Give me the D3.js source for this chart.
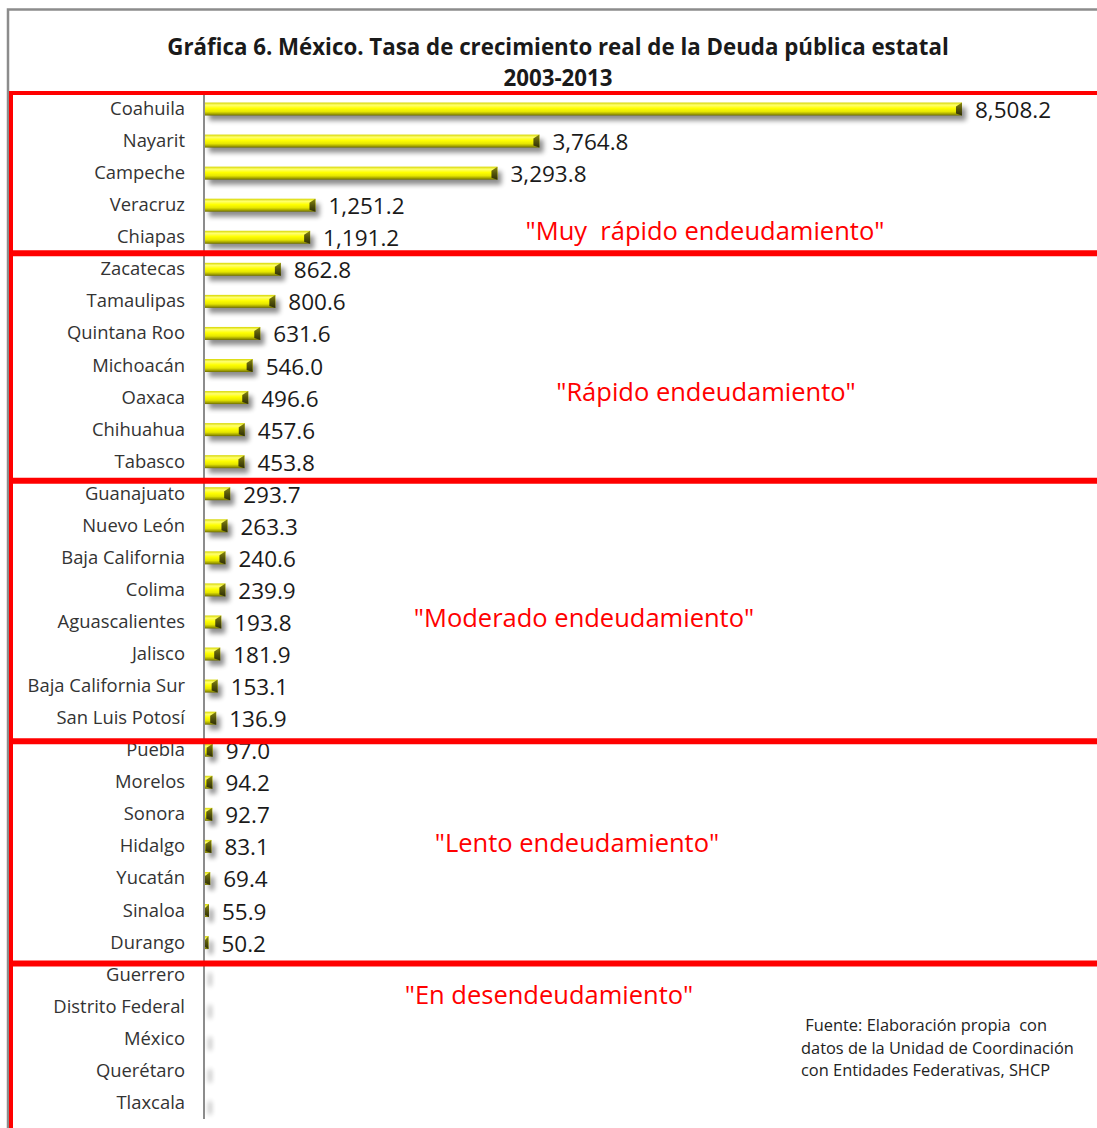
<!DOCTYPE html>
<html>
<head>
<meta charset="utf-8">
<script src="https://cdn.jsdelivr.net/npm/d3@7"></script>
<style>
    body { margin: 0; background: #fff; }
    svg { display: block; }
</style>
</head>
<body>
<div id="chart-div"></div>
<script>
// data
const states = ['Coahuila', 'Nayarit', 'Campeche', 'Veracruz', 'Chiapas',
    'Zacatecas', 'Tamaulipas', 'Quintana Roo', 'Michoacán', 'Oaxaca', 'Chihuahua', 'Tabasco',
    'Guanajuato', 'Nuevo León', 'Baja California', 'Colima', 'Aguascalientes', 'Jalisco',
    'Baja California Sur', 'San Luis Potosí',
    'Puebla', 'Morelos', 'Sonora', 'Hidalgo', 'Yucatán', 'Sinaloa', 'Durango',
    'Guerrero', 'Distrito Federal', 'México', 'Querétaro', 'Tlaxcala'];
const growth = [8508.2, 3764.8, 3293.8, 1251.2, 1191.2,
    862.8, 800.6, 631.6, 546.0, 496.6, 457.6, 453.8,
    293.7, 263.3, 240.6, 239.9, 193.8, 181.9, 153.1, 136.9,
    97.0, 94.2, 92.7, 83.1, 69.4, 55.9, 50.2,
    null, null, null, null, null]; // no bar shown for these
const groupNames = ['"Muy  rápido endeudamiento"', '"Rápido endeudamiento"',
    '"Moderado endeudamiento"', '"Lento endeudamiento"', '"En desendeudamiento"'];
const groupFirst = ['Coahuila', 'Zacatecas', 'Guanajuato', 'Puebla', 'Guerrero'];
const titleLines = ['Gráfica 6. México. Tasa de crecimiento real de la Deuda pública estatal', '2003-2013'];
const sourceLines = [' Fuente: Elaboración propia  con', 'datos de la Unidad de Coordinación', 'con Entidades Federativas, SHCP'];

window.Vis = window.Vis || {};

Vis.init = function() {
    Vis.setup.initConsts();
    Vis.setup.initGraph();
    Vis.setup.initDefs();

    Vis.draw.frame();
    Vis.draw.bars();
    Vis.draw.labels();
    Vis.draw.groups();
    Vis.draw.source();
};

Vis.setup = {
    initConsts: function() {
        Vis.width = 1097;
        Vis.height = 1128;
        Vis.axisX = 204;
        Vis.top = 93;
        Vis.rowH = 32.06;
        Vis.barH = 13;
        Vis.font = '"Open Sans", "Noto Sans", sans-serif';
    },

    initGraph: function() {
        Vis.svg = d3.select('#chart-div')
                    .append('svg')
                     .attr('width', Vis.width)
                     .attr('height', Vis.height);

        Vis.x = d3.scaleLinear()
                  .domain([0, 9000])
                  .range([Vis.axisX, Vis.axisX + 801.8]);
        Vis.y = d3.scaleBand()
                  .domain(states)
                  .range([Vis.top, Vis.top + Vis.rowH * states.length]);
    },

    initDefs: function() {
        let defs = Vis.svg.append('defs');

        let g = defs.append('linearGradient')
                    .attr('id', 'barGrad')
                    .attr('x1', 0).attr('y1', 0).attr('x2', 0).attr('y2', 1);
        [[0, '#d6d600'], [0.2, '#ffff70'], [0.45, '#ffff00'], [0.7, '#e6e600'], [0.88, '#a3a300'], [1, '#6e6e00']]
            .forEach(s => g.append('stop').attr('offset', s[0]).attr('stop-color', s[1]));

        let c = defs.append('linearGradient')
                    .attr('id', 'capGrad')
                    .attr('x1', 0).attr('y1', 0).attr('x2', 0).attr('y2', 1);
        [[0, '#8a8a10'], [0.5, '#55550a'], [1, '#2e2e05']]
            .forEach(s => c.append('stop').attr('offset', s[0]).attr('stop-color', s[1]));

        let f = defs.append('filter')
                    .attr('id', 'shadow')
                    .attr('x', '-20%').attr('y', '-60%')
                    .attr('width', '140%').attr('height', '260%');
        f.append('feGaussianBlur').attr('in', 'SourceAlpha').attr('stdDeviation', 2.5).attr('result', 'blur');
        f.append('feOffset').attr('dx', 4).attr('dy', 5).attr('result', 'off');
        f.append('feComponentTransfer').append('feFuncA').attr('type', 'linear').attr('slope', 0.45);
    }
};

Vis.draw = {
    frame: function() {
        // outer grey border
        Vis.svg.append('path')
               .attr('d', 'M8,1128 V9.5 H1097')
               .attr('fill', 'none')
               .attr('stroke', '#8c8c8c')
               .attr('stroke-width', 2.5);

        Vis.svg.selectAll('text.title')
               .data(titleLines)
               .join('text')
                .attr('class', 'title')
                .attr('x', 558)
                .attr('y', (d, i) => 55 + i * 31)
                .attr('text-anchor', 'middle')
                .attr('font-family', Vis.font)
                .attr('font-weight', 'bold')
                .attr('font-size', 22.3)
                .attr('fill', '#1a1a1a')
                .text(d => d);

        // category axis line
        Vis.svg.append('line')
               .attr('x1', Vis.axisX).attr('x2', Vis.axisX)
               .attr('y1', Vis.top).attr('y2', Vis.y.range()[1])
               .attr('stroke', '#8c8c8c')
               .attr('stroke-width', 2);
    },

    bars: function() {
        let rows = states.map((s, i) => ({ name: s, v: growth[i] }));

        // shadows first
        Vis.svg.append('g')
               .attr('filter', 'url(#shadow)')
               .selectAll('rect')
               .data(rows)
               .join('rect')
                .attr('x', Vis.axisX + 1)
                .attr('y', d => Vis.y(d.name) + Vis.rowH / 2 - Vis.barH / 2)
                .attr('width', d => Math.max(Vis.x(d.v || 0) - Vis.axisX - 1, 2))
                .attr('height', Vis.barH)
                .attr('fill', '#000');

        let live = rows.filter(d => d.v !== null);
        let bars = Vis.svg.append('g')
                          .selectAll('g')
                          .data(live)
                          .join('g')
                           .attr('transform', d => 'translate(0,' + (Vis.y(d.name) + Vis.rowH / 2 - Vis.barH / 2) + ')');

        bars.append('rect')
            .attr('x', Vis.axisX + 1)
            .attr('y', 0)
            .attr('width', d => Vis.x(d.v) - Vis.axisX - 1)
            .attr('height', Vis.barH)
            .attr('fill', 'url(#barGrad)');

        // bevelled end cap
        bars.append('path')
            .attr('d', d => {
                let e = Vis.x(d.v);
                let w = Math.min(6, e - Vis.axisX - 1);
                return 'M' + (e - w) + ',' + 4 + ' L' + e + ',0 L' + e + ',' + Vis.barH +
                       ' L' + (e - w) + ',' + (Vis.barH - 2) + ' Z';
            })
            .attr('fill', 'url(#capGrad)');

        bars.append('text')
            .attr('x', d => Vis.x(d.v) + 13)
            .attr('y', Vis.barH / 2 + 9)
            .attr('font-family', Vis.font)
            .attr('font-size', 22.5)
            .attr('fill', '#1a1a1a')
            .text(d => d3.format(',.1f')(d.v));
    },

    labels: function() {
        Vis.svg.append('g')
               .selectAll('text')
               .data(states)
               .join('text')
                .attr('x', 185)
                .attr('y', d => Vis.y(d) + Vis.rowH / 2 + 6)
                .attr('text-anchor', 'end')
                .attr('font-family', Vis.font)
                .attr('font-size', 18.4)
                .attr('fill', '#333')
                .text(d => d);
    },

    groups: function() {
        let nudge = [0, 0, 3, 7, 5]; // boxes sit a few px below the band edges
        let textPos = [[705, 240], [706, 401], [584, 627], [577, 852], [549, 1004]];
        let tops = groupFirst.map((s, i) => Vis.y(s) + nudge[i]);

        // left red edge
        Vis.svg.append('line')
               .attr('x1', 11).attr('x2', 11)
               .attr('y1', Vis.top).attr('y2', Vis.height)
               .attr('stroke', 'red')
               .attr('stroke-width', 4);

        Vis.svg.selectAll('line.grp')
               .data(tops)
               .join('line')
                .attr('class', 'grp')
                .attr('x1', 9).attr('x2', Vis.width)
                .attr('y1', d => d).attr('y2', d => d)
                .attr('stroke', 'red')
                .attr('stroke-width', (d, i) => i === 0 ? 4 : 6);

        Vis.svg.selectAll('text.grp')
               .data(groupNames)
               .join('text')
                .attr('class', 'grp')
                .attr('x', (d, i) => textPos[i][0])
                .attr('y', (d, i) => textPos[i][1])
                .attr('text-anchor', 'middle')
                .attr('font-family', Vis.font)
                .attr('font-size', 25.5)
                .attr('fill', 'red')
                .attr('xml:space', 'preserve')
                .style('white-space', 'pre')
                .text(d => d);
    },

    source: function() {
        Vis.svg.selectAll('text.src')
               .data(sourceLines)
               .join('text')
                .attr('class', 'src')
                .attr('x', 801)
                .attr('y', (d, i) => 1031 + i * 22.5)
                .attr('font-family', Vis.font)
                .attr('font-size', 16.4)
                .attr('fill', '#222')
                .style('white-space', 'pre')
                .text(d => d);
    }
};

document.addEventListener('DOMContentLoaded', Vis.init);
</script>
</body>
</html>
